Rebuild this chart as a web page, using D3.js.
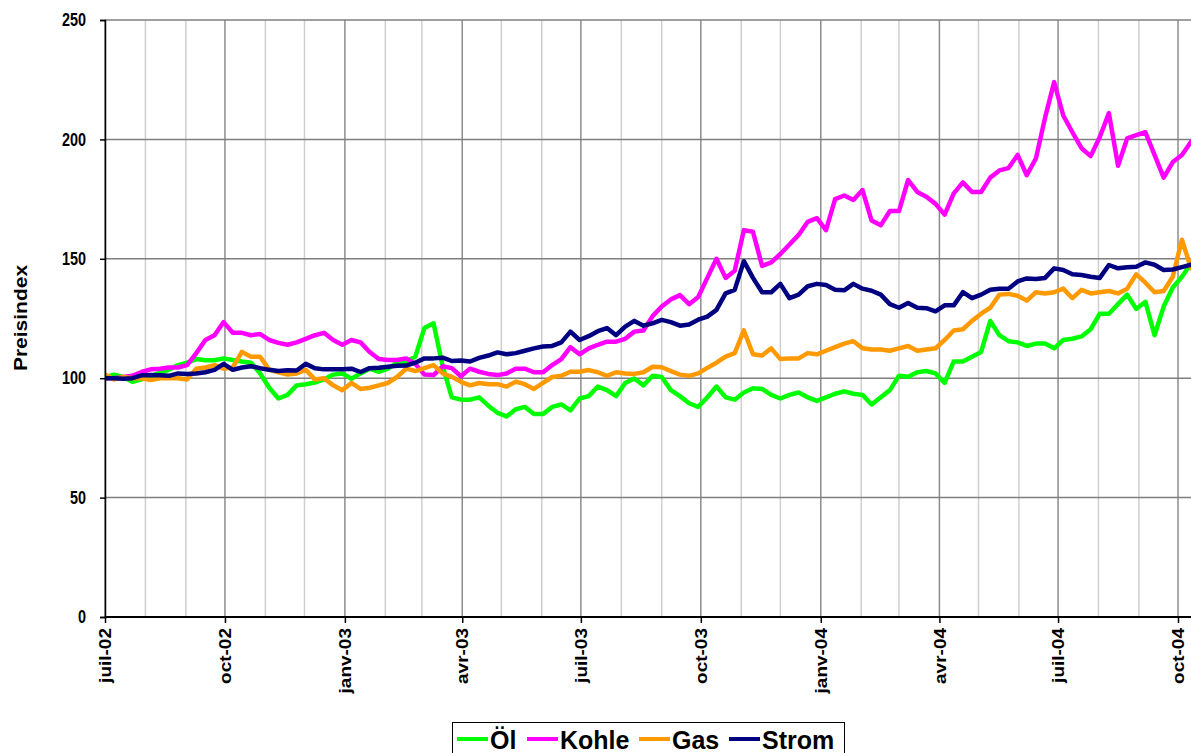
<!DOCTYPE html>
<html><head><meta charset="utf-8">
<script src="https://cdn.jsdelivr.net/npm/d3@7"></script>
<style>
body{margin:0;background:#fff;}
text{font-family:"Liberation Sans",Arial,sans-serif;font-weight:bold;fill:#000;}
</style></head>
<body><svg id="c" width="1191" height="753"></svg>
<script>
const seriesNames = ["Öl","Kohle","Gas","Strom"];
const seriesColors = ["#00ff00","#ff00ff","#ff9900","#000080"];
const yTicks = [0,50,100,150,200,250];
const xTickLabels = ["juil-02","oct-02","janv-03","avr-03","juil-03","oct-03","janv-04","avr-04","juil-04","oct-04"];
const startDate = "2002-07-01"; // weekly observations from this date

const oel = [100.5,101.5,100.5,98.5,99.5,100.8,102.3,103.5,105.5,106.5,108,107.5,107.5,108.3,107.6,107,106.5,102,96,91.5,
93,97,97.5,98.2,99.5,101.5,102,99.8,102,104,102.7,104,106.5,107,109,121,123,105,92,91,
91,92,88.5,85.5,84,87,88,85,85,88,89,86.5,91.5,92.5,96.5,95,92.5,98,99.9,97,
101,100.5,95,92.5,89.5,88,92,96.5,92,91,94,95.8,95.5,93,91.5,93,94,92,90.5,92,
93.5,94.5,93.5,93,89,92,95,101,100.6,102.5,103,102,98,107,107,109,111,124,118,115.5,
115,113.5,114.5,114.5,112.5,116,116.5,117.5,120.5,127,127,131,135,129,132,118,130,138,142.5,148];

const kohle = [100,100,100.5,101,102.6,103.7,104,104.5,104.5,105.5,110.5,116,118,123.5,119,119,118,118.5,116,114.8,
114,115,116.5,118,119,116,114,116,115,111,108,107.6,107.6,108.3,106,101.5,101.3,105,104.2,100.8,
104,102.7,101.8,101.3,102,104,104,102.5,102.5,105.5,108,113,110,112.5,114,115.3,115.3,116.5,119.5,120,
126,130,133,134.8,131,134,142,150,142,145,162,161.3,147,148.5,152,156,160,165.5,167,162,
175,176.5,174.6,178.8,166,164,170,170,183,178,176,173,168.5,177.4,182,178,178,184,187,188,
193.5,185,192,209,224,210,203,196.3,193,201,211,189,200.4,201.8,203,193.5,184,190.5,193.5,199];

const gas = [101.5,99.5,100.5,100,100,99.2,100,100,100,99.5,104,104.5,105.5,104,104.5,111,109,109,103.5,102.5,
101.5,102,103.5,99.5,100,97,95,98,95.5,96,97,98,100.5,104,103,104.2,105.5,102,100.6,98.5,
97,98,97.5,97.5,96.5,98.5,97.5,95.5,98,100.5,101,102.7,102.7,103.4,102.5,101,102.5,102,101.8,102.5,
104.8,104.6,103,101.5,101,102,104.3,106.5,109,110.5,120,110,109.5,112.5,108,108.3,108.3,110.5,110,111.5,
113,114.5,115.5,112.5,112,112,111.5,112.5,113.5,111.5,112,112.5,116,120,120.5,124,127,129.5,135,135.3,
134.5,132.5,136,135.5,136,137.5,133.5,137,135.5,136,136.5,135.5,137.5,143.5,140,136,136.5,142.5,158,146];

const strom = [100,100,99.8,100,101.2,101.3,101.2,101,102,101.8,102,102.5,103.5,106,103.5,104.5,105,104.2,103.5,103,
103.3,103.2,106,104.2,103.7,103.7,103.7,104,102.6,104.2,104.4,104.8,105.2,105.3,106.5,108.3,108.3,108.6,107.2,107.4,
107,108.5,109.5,110.8,110,110.5,111.5,112.5,113.3,113.5,115,119.5,116,117.6,119.7,121,118,121.6,124,122,
123,124.4,123.5,122,122.5,124.5,125.8,128.6,135.5,137,149,142,136,136,139.5,133.5,135,138.5,139.5,139,
137,136.8,139.5,137.5,136.6,135,131,129.5,131.5,129.5,129.3,128,130.5,130.5,136,133.5,135,137,137.5,137.5,
140.5,141.8,141.5,142,146,145.3,143.5,143.2,142.5,142,147.4,146,146.5,146.7,148.5,147.5,145.3,145.5,146.5,147.5];

const allSeries = [oel, kohle, gas, strom];

const svg = d3.select("#c");
const mLeft = 105, mTop = 20, mBottom = 617, mRight = 1191;
const parse = d3.timeParse("%Y-%m-%d");
const d0 = parse(startDate);
const dates = oel.map((_, i) => d3.timeDay.offset(d0, 7 * i));

const x = d3.scaleTime().domain([parse("2002-07-01"), parse("2004-10-01")]).range([105, 1178]);
const y = d3.scaleLinear().domain([0, 250]).range([mBottom, mTop]);

// monthly gridlines
const months = d3.timeMonth.range(parse("2002-07-01"), parse("2004-11-01"));
svg.append("g").selectAll("line").data(months).join("line")
  .attr("x1", d => x(d)).attr("x2", d => x(d)).attr("y1", mTop).attr("y2", mBottom)
  .attr("stroke", d => d.getMonth() % 3 === 0 ? "#8c8c8c" : "#cfcfcf")
  .attr("stroke-width", 1.5);

// horizontal gridlines
svg.append("g").selectAll("line").data(yTicks.filter(v => v > 0)).join("line")
  .attr("x1", mLeft).attr("x2", mRight).attr("y1", d => y(d)).attr("y2", d => y(d))
  .attr("stroke", "#7f7f7f").attr("stroke-width", 1.5);

// series
const defs = svg.append("defs");
defs.append("clipPath").attr("id", "clip").append("rect")
  .attr("x", mLeft).attr("y", 0).attr("width", mRight - mLeft).attr("height", mBottom);
const line = d3.line().x((d, i) => x(dates[i])).y(d => y(d));
const g = svg.append("g").attr("clip-path", "url(#clip)");
allSeries.forEach((s, k) => {
  g.append("path").datum(s).attr("d", line).attr("fill", "none")
    .attr("stroke", seriesColors[k]).attr("stroke-width", 4.5)
    .attr("stroke-linejoin", "round").attr("stroke-linecap", "round");
});

// y axis
const yAxis = d3.axisLeft(y).tickValues(yTicks).tickSize(5).tickPadding(0);
const ya = svg.append("g").attr("transform", `translate(${mLeft},0)`).call(yAxis);
ya.select(".domain").attr("stroke", "#000").attr("stroke-width", 1.5);
ya.selectAll(".tick line").attr("stroke", "#000").attr("stroke-width", 1.5);
ya.selectAll("text").attr("x", null)
  .style("font-size", "18px").style("font-family", "'Liberation Sans',Arial,sans-serif").style("font-weight", "bold")
  .attr("transform", "translate(-19,0) scale(0.8,1)");

// x axis
const quarterDates = months.filter(d => d.getMonth() % 3 === 0);
const xAxis = d3.axisBottom(x).tickValues(quarterDates).tickSize(6)
  .tickFormat((d, i) => xTickLabels[i]);
const xa = svg.append("g").attr("transform", `translate(0,${mBottom})`).call(xAxis);
xa.select(".domain").attr("d", `M${mLeft},0H${mRight}`).attr("stroke", "#000").attr("stroke-width", 2);
xa.selectAll(".tick line").attr("stroke", "#000").attr("stroke-width", 1.5);
xa.selectAll("text")
  .style("font-size", "19px").style("font-family", "'Liberation Sans',Arial,sans-serif").style("font-weight", "bold")
  .attr("text-anchor", "end").attr("transform", "rotate(-90) scale(1,0.85)")
  .attr("x", -11).attr("y", 0).attr("dy", "0.35em");

// y title
svg.append("text").attr("transform", "translate(27,318) rotate(-90) scale(1,0.85)")
  .attr("text-anchor", "middle").style("font-size", "21px").text("Preisindex");

// legend
const lg = svg.append("g");
lg.append("rect").attr("x", 452.5).attr("y", 722.5).attr("width", 392).attr("height", 40)
  .attr("fill", "#fff").attr("stroke", "#000").attr("stroke-width", 1);
const legX = [457, 527, 639, 729];
seriesNames.forEach((n, k) => {
  lg.append("line").attr("x1", legX[k]).attr("x2", legX[k] + 31).attr("y1", 739).attr("y2", 739)
    .attr("stroke", seriesColors[k]).attr("stroke-width", 4);
  lg.append("text").attr("x", legX[k] + 33).attr("y", 749).style("font-size", "25px").text(n);
});
</script></body></html>
